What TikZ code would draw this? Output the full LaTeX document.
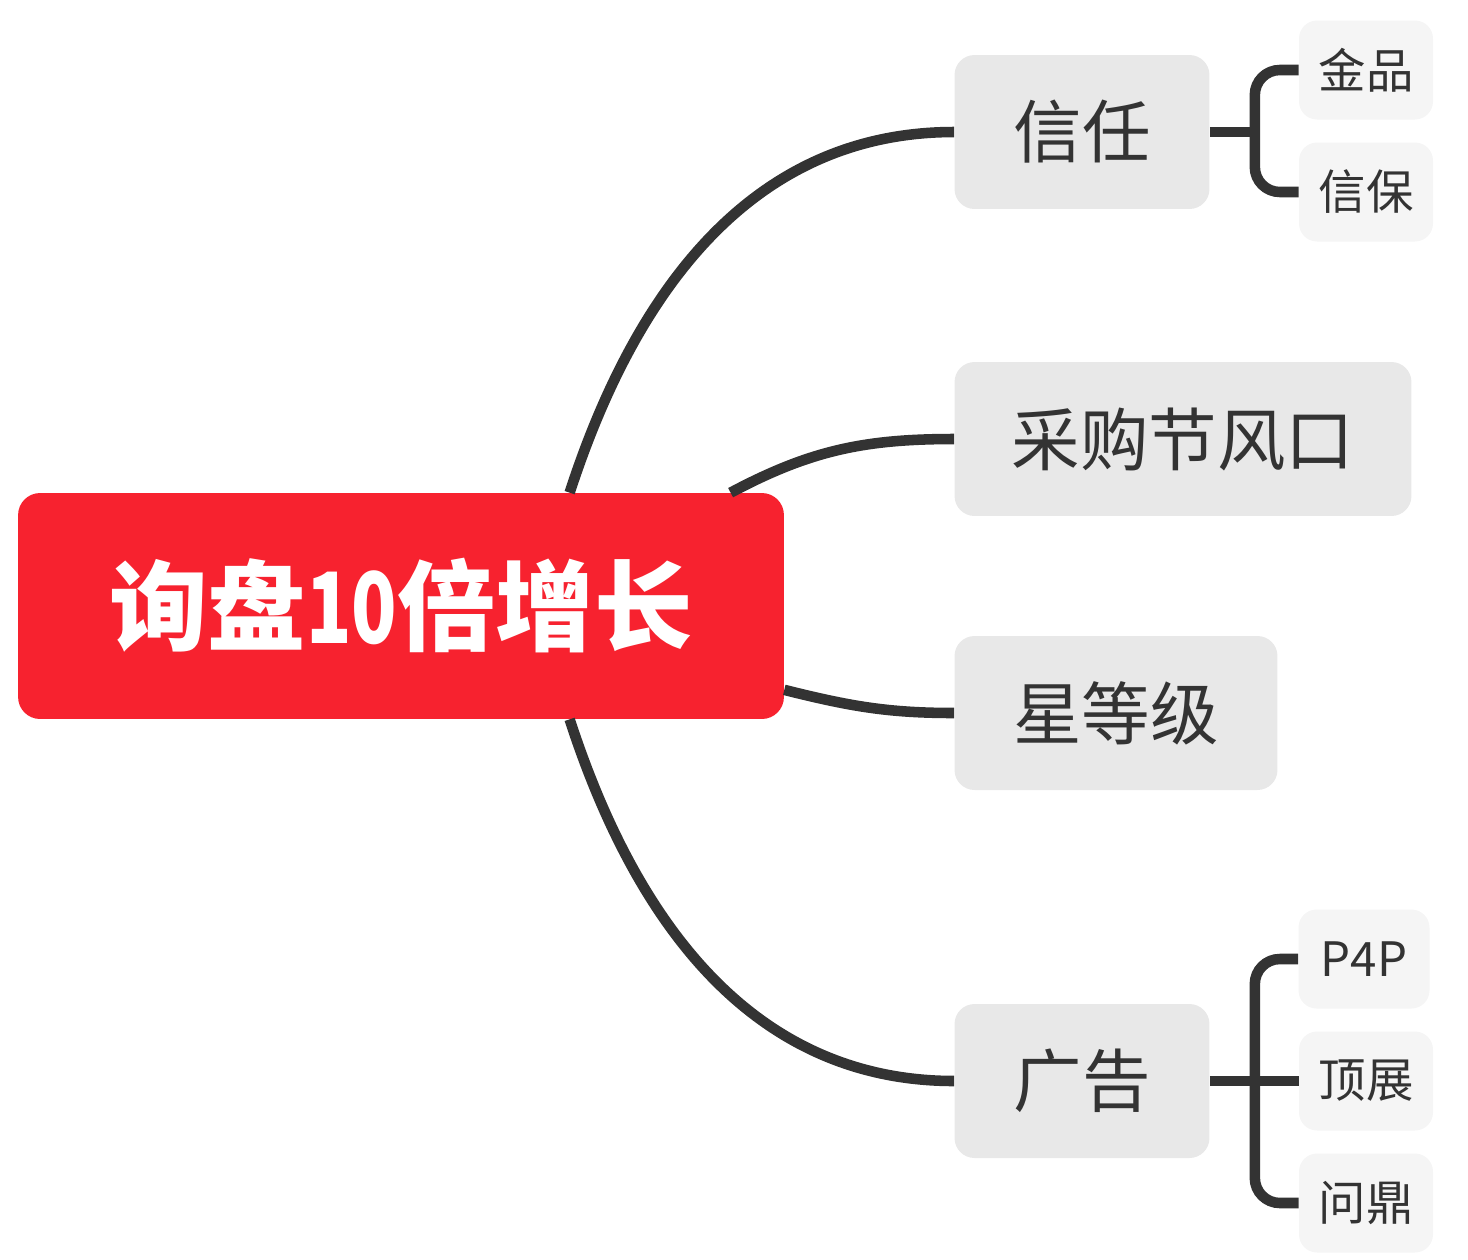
\documentclass[tikz,border=0pt]{standalone}
\usepackage{fontspec}
\usepackage{graphicx}
\newfontfamily\cjk{Noto Sans CJK SC}
\usetikzlibrary{positioning,calc}
\definecolor{rootred}{HTML}{F7222F}
\definecolor{topicgray}{HTML}{E8E8E8}
\definecolor{subgray}{HTML}{F5F5F5}
\definecolor{inkgray}{HTML}{333333}

\begin{document}
\begin{tikzpicture}[
  x=0.02cm, y=-0.02cm,
  rootbox/.style={
    rectangle, rounded corners=0.44cm, fill=rootred, text=white,
    minimum width=15.32cm, minimum height=4.52cm, inner sep=0pt,
    font=\cjk\bfseries\fontsize{56}{60}\selectfont
  },
  topic/.style={
    rectangle, rounded corners=0.4cm, fill=topicgray, text=inkgray,
    minimum height=3.08cm, inner sep=0pt,
    font=\cjk\fontsize{39}{42}\selectfont
  },
  subtopic/.style={
    rectangle, rounded corners=0.36cm, fill=subgray, text=inkgray,
    minimum width=2.68cm, minimum height=1.98cm, inner sep=0pt,
    font=\cjk\fontsize{27}{30}\selectfont
  },
  branch/.style={
    draw=inkgray, line width=6pt
  }
]
\useasboundingbox (0,0) rectangle (1468,1259);

% ==================== NODES ====================

% central topic
\node (root) [rootbox] at (401,606) {询盘\scalebox{0.76}[1]{10}倍增长};

% main topics
\node (trust) [topic, minimum width=5.1cm] at (1082,132) {信任};
\node (season) [topic, minimum width=9.14cm] at (1183,439) {采购节风口};
\node (star) [topic, minimum width=6.46cm] at (1116,713) {星等级};
\node (ads) [topic, minimum width=5.1cm] at (1082,1081) {广告};

% sub topics
\node (gold) [subtopic] at (1366,70) {金品};
\node (guarantee) [subtopic] at (1366,192) {信保};
\node (pfp) [subtopic, minimum width=2.62cm] at (1364,959) {P4P};
\node (top) [subtopic] at (1366,1081) {顶展};
\node (wending) [subtopic] at (1366,1203) {问鼎};

% ==================== BRANCHES ====================

\coordinate (r1) at ($(root.north west)!0.72!(root.north east)$);
\coordinate (r2) at ($(root.north west)!0.93!(root.north east)$);
\coordinate (r3) at ($(root.north east)!0.87!(root.south east)$);
\coordinate (r4) at ($(root.south west)!0.72!(root.south east)$);

\draw [branch] (r1) to[out=72,in=180] (trust.west);
\draw [branch] (r2) to[out=28,in=180] (season.west);
\draw [branch] (r3) to[out=-14,in=180] (star.west);
\draw [branch] (r4) to[out=-72,in=180] (ads.west);

% brackets
\draw [branch] (trust.east) -- ++(45,0);
\draw [branch, rounded corners=0.5cm] (gold.west) -| ($(trust.east)+(45,0)$) |- (guarantee.west);

\draw [branch] (ads.east) -- (top.west);
\draw [branch, rounded corners=0.5cm] (pfp.west) -| ($(ads.east)+(45,0)$) |- (wending.west);

\end{tikzpicture}
\end{document}
